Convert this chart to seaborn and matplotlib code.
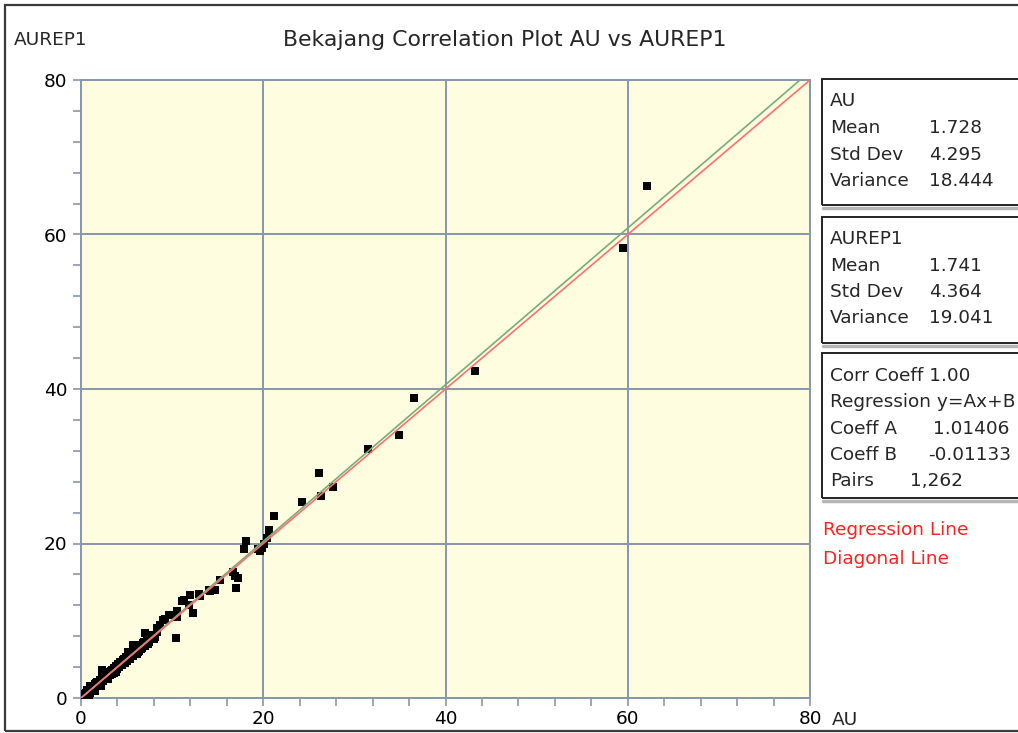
import numpy as np
import pandas as pd
import matplotlib
matplotlib.use("Agg")
import matplotlib.pyplot as plt
from matplotlib.patches import Rectangle
from matplotlib.lines import Line2D
from matplotlib.ticker import MultipleLocator
import seaborn as sns

# ---- assay pairs: original AU vs repeat AUREP1 (g/t) ----
au_high = [62.1, 59.5, 43.2, 36.5, 34.9, 31.5, 27.7, 26.3, 26.1, 24.3, 21.2, 20.6,
           20.4, 19.9, 19.4, 18.1, 17.9, 17.2, 16.9, 16.7, 17.0, 15.3, 14.7, 14.0,
           13.1, 12.3, 12.0, 11.3, 11.05, 10.5, 10.4, 10.5, 9.7, 9.2, 9.0, 8.7, 8.3,
           7.0, 5.7, 20.1, 19.6, 14.2, 12.9, 11.8]
aurep_high = [66.3, 58.3, 42.3, 38.8, 34.0, 32.2, 27.3, 26.1, 29.1, 25.4, 23.6, 21.7,
              20.7, 19.4, 19.3, 20.3, 19.3, 15.5, 15.8, 16.3, 14.2, 15.3, 14.0, 14.0,
              13.2, 11.0, 13.3, 12.7, 12.5, 11.3, 7.8, 10.5, 10.7, 10.2, 10.1, 9.5, 9.1,
              8.4, 6.9, 19.9, 19.0, 13.8, 13.4, 12.1]

au_low = [0.02, 0.05, 0.08, 0.10, 0.12, 0.15, 0.20, 0.22, 0.25, 0.30, 0.33, 0.38,
          0.40, 0.45, 0.50, 0.55, 0.60, 0.62, 0.70, 0.75, 0.80, 0.85, 0.90, 1.00,
          1.05, 1.10, 1.20, 1.25, 1.30, 1.40, 1.50, 1.55, 1.60, 1.70, 1.80, 1.90,
          2.00, 2.10, 2.20, 2.30, 2.40, 2.50, 2.60, 2.70, 2.80, 2.90, 3.00, 3.10,
          3.20, 3.35, 3.50, 3.60, 3.70, 3.80, 4.00, 4.10, 4.20, 4.40, 4.50, 4.60,
          4.80, 5.00, 5.10, 5.20, 5.40, 5.50, 5.70, 5.80, 6.00, 6.20, 6.30, 6.50,
          6.70, 6.90, 7.00, 7.20, 7.50, 7.80, 8.00, 8.30,
          0.50, 0.90, 1.50, 2.20, 3.00, 1.00, 2.30, 5.20, 3.80, 4.70, 6.10, 0.30,
          0.70, 1.80, 2.60, 3.40, 4.30, 5.60, 6.60, 7.40,
          0.35, 0.95, 1.35, 1.95, 2.45, 2.85, 3.25, 3.65, 4.15, 4.55, 4.95, 5.35,
          5.85, 6.35, 6.85, 7.30, 7.70, 8.10]
aurep_low = [0.05, 0.02, 0.15, 0.05, 0.25, 0.10, 0.30, 0.15, 0.35, 0.20, 0.45, 0.30,
             0.55, 0.35, 0.65, 0.45, 0.50, 0.75, 0.60, 0.90, 0.70, 1.00, 0.80, 1.15,
             0.90, 1.30, 1.05, 1.45, 1.20, 1.60, 1.30, 1.75, 1.50, 1.90, 1.65, 2.10,
             1.85, 2.35, 2.00, 2.55, 2.20, 2.75, 2.40, 2.95, 2.60, 3.15, 2.80, 3.35,
             3.00, 3.60, 3.25, 3.85, 3.45, 4.10, 3.75, 4.40, 3.95, 4.70, 4.25, 4.90,
             4.55, 5.30, 4.85, 5.50, 5.15, 5.80, 5.40, 6.10, 5.75, 6.50, 6.00, 6.80,
             6.45, 7.20, 6.75, 7.50, 7.20, 8.10, 7.70, 8.60,
             0.20, 0.45, 0.90, 1.60, 2.50, 1.60, 3.60, 6.00, 3.40, 5.10, 5.70, 0.55,
             1.00, 2.10, 2.90, 3.10, 4.60, 5.90, 6.30, 7.80,
             0.15, 0.70, 1.55, 1.70, 2.75, 2.55, 3.55, 3.30, 4.45, 4.30, 5.25, 5.05,
             6.15, 6.05, 7.10, 7.00, 8.05, 7.85]

coeff_a = 1.01406
coeff_b = -0.01133
n_pairs = 1262

au_stats = ["1.728", "4.295", "18.444"]
aurep_stats = ["1.741", "4.364", "19.041"]

df = pd.DataFrame({"AU": au_high + au_low, "AUREP1": aurep_high + aurep_low})

sns.set_style("white")
plt.rcParams["font.family"] = ["DejaVu Sans"]

W, H = 1018, 733
fig = plt.figure(figsize=(W / 100, H / 100), dpi=100)
fig.patch.set_facecolor("white")

ax_l, ax_r, ax_t, ax_b = 81, 810, 80, 698
ax = fig.add_axes([ax_l / W, 1 - ax_b / H, (ax_r - ax_l) / W, (ax_b - ax_t) / H])
ax.set_facecolor("#FFFDDF")

grid_c = "#8796AD"
fs = 13.3

sns.scatterplot(data=df, x="AU", y="AUREP1", ax=ax, marker="s", s=34,
                color="black", linewidth=0, zorder=3, legend=False)

line_x = np.array([0.0, 80.0])
sns.lineplot(x=line_x, y=coeff_a * line_x + coeff_b, ax=ax, color="#79AB79",
             linewidth=1.2, zorder=4)
sns.lineplot(x=line_x, y=line_x, ax=ax, color="#FF6F6F", linewidth=1.2, zorder=5)

ax.set_xlim(0, 80)
ax.set_ylim(0, 80)
ax.xaxis.set_major_locator(MultipleLocator(20))
ax.yaxis.set_major_locator(MultipleLocator(20))
ax.xaxis.set_minor_locator(MultipleLocator(4))
ax.yaxis.set_minor_locator(MultipleLocator(4))
ax.grid(True, which="major", color=grid_c, linewidth=1.4)
ax.set_axisbelow(True)
for s in ax.spines.values():
    s.set_color(grid_c)
    s.set_linewidth(1.4)
ax.tick_params(which="both", direction="out", length=6, width=1.2, color=grid_c,
               labelsize=fs, labelcolor="black")
ax.tick_params(axis="y", which="both", left=True, pad=4)
ax.tick_params(axis="x", which="both", bottom=True, pad=3)
ax.set_xlabel("")
ax.set_ylabel("")

# titles and axis captions
fig.text(505 / W, 1 - 40 / H, "Bekajang Correlation Plot AU vs AUREP1",
         ha="center", va="center", fontsize=15.8)
fig.text(14 / W, 1 - 40 / H, "AUREP1", ha="left", va="center", fontsize=fs)
fig.text(832 / W, 1 - 720 / H, "AU", ha="left", va="center", fontsize=fs)

# outer frame
fig.patches.append(Rectangle((5 / W, 1 - 731 / H), 1.2, (731 - 5) / H,
                             transform=fig.transFigure, fill=False,
                             edgecolor="#3A3A3A", linewidth=1.6))


def box(top, bottom):
    fig.patches.append(Rectangle((822 / W, 1 - bottom / H), 0.3, (bottom - top) / H,
                                 transform=fig.transFigure, fill=False,
                                 edgecolor="#222222", linewidth=1.4))
    fig.lines.append(Line2D([823 / W, 1.0], [1 - (bottom + 2.5) / H] * 2,
                            transform=fig.transFigure, color="#B5B5B5",
                            linewidth=2.5))


box(79, 205)
box(217, 343)
box(353, 498)


def txt(x, y, s, **kw):
    fig.text(x / W, 1 - y / H, s, ha="left", va="center", fontsize=fs, **kw)


txt(830, 101, "AU")
for yy, lab, val in zip([128, 155, 181], ["Mean", "Std Dev", "Variance"], au_stats):
    txt(830, yy, lab)
    txt(929, yy, val)

txt(830, 239, "AUREP1")
for yy, lab, val in zip([266, 292, 318], ["Mean", "Std Dev", "Variance"], aurep_stats):
    txt(830, yy, lab)
    txt(929, yy, val)

txt(830, 376, "Corr Coeff 1.00")
txt(830, 402, "Regression y=Ax+B")
txt(830, 429, "Coeff A")
txt(933, 429, f"{coeff_a:.5f}")
txt(830, 455, "Coeff B")
txt(928, 455, f"{coeff_b:.5f}")
txt(830, 481, "Pairs")
txt(910, 481, f"{n_pairs:,}")

txt(823, 530, "Regression Line", color="#FF2020")
txt(823, 559, "Diagonal Line", color="#FF2020")

fig.savefig("out.png", dpi=100, facecolor="white")
